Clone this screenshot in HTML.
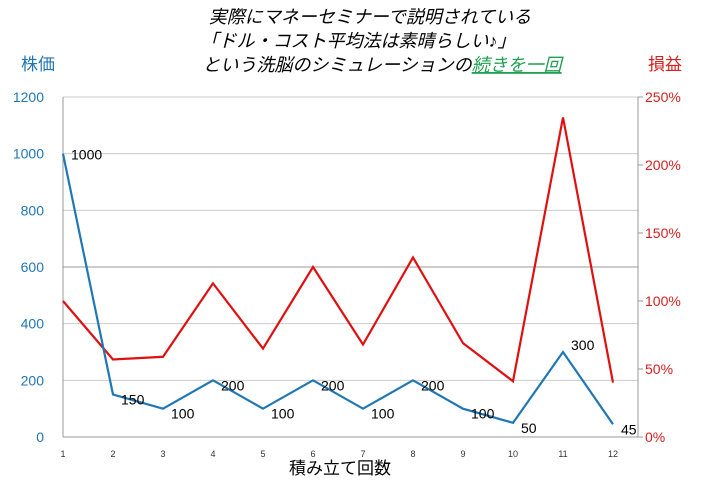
<!DOCTYPE html>
<html><head><meta charset="utf-8">
<style>
body{margin:0;background:#fff;width:703px;height:481px;overflow:hidden;font-family:"Liberation Sans","Noto Sans CJK JP",sans-serif;}
</style></head>
<body>
<svg width="703" height="481" xmlns="http://www.w3.org/2000/svg" font-family="'Liberation Sans','Noto Sans CJK JP',sans-serif">
<g font-size="18" font-style="italic" fill="#000" text-anchor="middle">
<text x="370" y="23">実際にマネーセミナーで説明されている</text>
<text x="358" y="47">「ドル・コスト平均法は素晴らしい♪」</text>
<text x="382" y="71">という洗脳のシミュレーションの<tspan fill="#1fa050" text-decoration="underline">続きを一回</tspan></text>
</g>
<text x="38" y="70" font-size="17" fill="#1f77b4" text-anchor="middle">株価</text>
<text x="665" y="70" font-size="17" fill="#d62020" text-anchor="middle">損益</text>
<g id="grid"></g><g id="axes"></g><g id="lines"></g>
<text x="340" y="474" font-size="17" fill="#000" text-anchor="middle">積み立て回数</text>
</svg>
<script>
const categories=[1,2,3,4,5,6,7,8,9,10,11,12];
const priceValues=[1000,150,100,200,100,200,100,200,100,50,300,45];
const profitValues=[100,57,59,113,65,125,68,132,69,41,235,40];
const leftTicks=[0,200,400,600,800,1000,1200];
const rightTicks=[0,50,100,150,200,250];
const NS="http://www.w3.org/2000/svg";
const X0=63,X1=613,Y0=437,Y1=97,XR=638;
const x=i=>X0+(X1-X0)*i/(categories.length-1);
const yL=v=>Y0-(Y0-Y1)*v/1200;
const yR=v=>Y0-(Y0-Y1)*v/250;
function mk(tag,attrs,parent,text){const e=document.createElementNS(NS,tag);for(const k in attrs)e.setAttribute(k,attrs[k]);if(text!==undefined)e.textContent=text;document.getElementById(parent).appendChild(e);return e;}
leftTicks.forEach(t=>{
 const g=mk('line',{x1:X0,x2:XR,y1:yL(t),y2:yL(t),stroke:t===600?'#999':'#ccc','stroke-width':1},'grid');
 
 
 const l=mk('text',{x:44,y:yL(t)+5,'font-size':14,fill:'#1f77b4','text-anchor':'end'},'axes',t);
 
 
});
rightTicks.forEach(t=>{
 const m=mk('line',{x1:XR,x2:XR+5,y1:yR(t),y2:yR(t),stroke:'#999'},'axes');
 
 
 const l=mk('text',{x:645,y:yR(t)+5,'font-size':14,fill:'#d62020'},'axes',t+'%');
 
 
});
const la=mk('line',{x1:X0,x2:X0,y1:Y1,y2:Y0,stroke:'#999'},'axes');


const ra=mk('line',{x1:XR,x2:XR,y1:Y1,y2:Y0,stroke:'#999'},'axes');


const xa=mk('line',{x1:X0,x2:XR,y1:Y0,y2:Y0,stroke:'#999'},'axes');


categories.forEach((c,i)=>{
 const l=mk('text',{x:x(i),y:457,'font-size':9,fill:'#333','text-anchor':'middle'},'axes',c);
 
 
});
const rp=mk('polyline',{points:profitValues.map((v,i)=>x(i)+','+yR(v)).join(' '),fill:'none',stroke:'#e01010','stroke-width':2.2},'lines');


const bp=mk('polyline',{points:priceValues.map((v,i)=>x(i)+','+yL(v)).join(' '),fill:'none',stroke:'#1f77b4','stroke-width':2.2},'lines');


priceValues.forEach((v,i)=>{
 const l=mk('text',{x:x(i)+8,y:yL(v)+(i===10?-2:i===0?6:10),'font-size':14,fill:'#000'},'lines',v);
 
 
});
</script>
</body></html>
